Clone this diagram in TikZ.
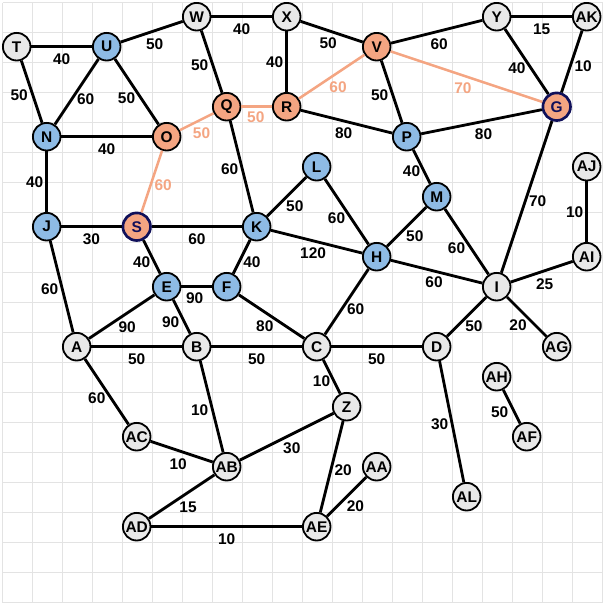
\documentclass[tikz,border=0pt]{standalone}
\usepackage{fontspec}
\setmainfont{Liberation Sans}
\definecolor{vgray}{HTML}{E8E8E8}
\definecolor{vblue}{HTML}{8EBBE5}
\definecolor{vorange}{HTML}{F4A582}
\definecolor{vnavy}{HTML}{10105A}
\definecolor{gridgray}{HTML}{E3E3E3}

\begin{document}
\begin{tikzpicture}[x=0.75cm,y=-0.75cm,
  v/.style={circle,draw=black,line width=1.3pt,minimum size=0.69cm,inner sep=0pt,
    font=\bfseries\fontsize{11}{12}\selectfont},
  gv/.style={v,fill=vgray},
  bv/.style={v,fill=vblue},
  ov/.style={v,fill=vorange},
  sv/.style={ov,draw=vnavy,line width=1.9pt,text=vnavy},
  e/.style={black,line width=2pt},
  oe/.style={vorange,line width=1.8pt},
  wt/.style={inner sep=0pt,text=black,font=\bfseries\fontsize{11}{12}\selectfont},
  owt/.style={wt,text=vorange},
  gridline/.style={gridgray,line width=1pt}]

\useasboundingbox (-0.557,-0.557) rectangle (19.543,19.61);

\foreach \k in {0,...,20} {
  \draw[gridline] (\k-0.473,-0.473) -- (\k-0.473,19.527);
  \draw[gridline] (-0.473,\k-0.473) -- (19.527,\k-0.473);
}

% vertices
\node[gv] (T) at (0,1) {T};
\node[bv] (U) at (3,1) {U};
\node[gv] (W) at (6,0) {W};
\node[gv] (X) at (9,0) {X};
\node[ov] (V) at (12,1) {V};
\node[gv] (Y) at (16,0) {Y};
\node[gv] (AK) at (19,0) {AK};
\node[bv] (N) at (1,4) {N};
\node[ov] (O) at (5,4) {O};
\node[ov] (Q) at (7,3) {Q};
\node[ov] (R) at (9,3) {R};
\node[bv] (P) at (13,4) {P};
\node[sv] (G) at (18,3) {G};
\node[bv] (L) at (10,5) {L};
\node[gv] (AJ) at (19,5) {AJ};
\node[bv] (M) at (14,6) {M};
\node[bv] (J) at (1,7) {J};
\node[sv] (S) at (4,7) {S};
\node[bv] (K) at (8,7) {K};
\node[bv] (H) at (12,8) {H};
\node[gv] (AI) at (19,8) {AI};
\node[bv] (E) at (5,9) {E};
\node[bv] (F) at (7,9) {F};
\node[gv] (I) at (16,9) {I};
\node[gv] (A) at (2,11) {A};
\node[gv] (B) at (6,11) {B};
\node[gv] (C) at (10,11) {C};
\node[gv] (D) at (14,11) {D};
\node[gv] (AG) at (18,11) {AG};
\node[gv] (AH) at (16,12) {AH};
\node[gv] (Z) at (11,13) {Z};
\node[gv] (AC) at (4,14) {AC};
\node[gv] (AF) at (17,14) {AF};
\node[gv] (AB) at (7,15) {AB};
\node[gv] (AA) at (12,15) {AA};
\node[gv] (AL) at (15,16) {AL};
\node[gv] (AD) at (4,17) {AD};
\node[gv] (AE) at (10,17) {AE};

%-------------------------------------
\draw[e] (T) -- node[wt,shift={(0,.4)}] {40} (U);
\draw[e] (T) -- node[wt,shift={(-.42,.12)}] {50} (N);
\draw[e] (U) -- node[wt,shift={(.1,.41)}] {50} (W);
\draw[e] (W) -- node[wt,shift={(0,.43)}] {40} (X);
\draw[e] (U) -- node[wt,shift={(.3,.24)}] {60} (N);
\draw[e] (U) -- node[wt,shift={(-.34,.21)}] {50} (O);
\draw[e] (W) -- node[wt,shift={(-.4,.1)}] {50} (Q);
\draw[e] (X) -- node[wt,shift={(-.4,0)}] {40} (R);
\draw[e] (N) -- node[wt,shift={(0,.4)}] {40} (O);
\draw[e] (N) -- node[wt,shift={(-.4,0)}] {40} (J);
\draw[e] (Q) -- node[wt,shift={(-.4,.08)}] {60} (K);
\draw[e] (X) -- node[wt,shift={(-.12,.38)}] {50} (V);
\draw[e] (V) -- node[wt,shift={(.08,.4)}] {60} (Y);
\draw[e] (Y) -- node[wt,shift={(0,.43)}] {15} (AK);
\draw[e] (Y) -- node[wt,shift={(-.32,.21)}] {40} (G);
\draw[e] (AK) -- node[wt,shift={(.38,.16)}] {10} (G);
\draw[e] (V) -- node[wt,shift={(-.4,.1)}] {50} (P);
\draw[e] (R) -- node[wt,shift={(-.1,.38)}] {80} (P);
\draw[e] (P) -- node[wt,shift={(.07,.4)}] {80} (G);
\draw[e] (P) -- node[wt,shift={(-.34,.16)}] {40} (M);
\draw[e] (G) -- node[wt,shift={(.37,.13)}] {70} (I);
\draw[e] (AJ) -- node[wt,shift={(-.4,0)}] {10} (AI);

%-------------------------------------
\draw[e] (J) -- node[wt,shift={(0,.4)}] {30} (S);
\draw[e] (S) -- node[wt,shift={(0,.4)}] {60} (K);
\draw[e] (S) -- node[wt,shift={(-.34,.18)}] {40} (E);
\draw[e] (K) -- node[wt,shift={(.34,.19)}] {40} (F);
\draw[e] (E) -- node[wt,shift={(-.07,.38)}] {90} (F);
\draw[e] (J) -- node[wt,shift={(-.4,.08)}] {60} (A);
\draw[e] (A) -- node[wt,shift={(.18,.34)}] {90} (E);
\draw[e] (E) -- node[wt,shift={(-.37,.19)}] {90} (B);
\draw[e] (F) -- node[wt,shift={(-.23,.3)}] {80} (C);
\draw[e] (A) -- node[wt,shift={(0,.4)}] {50} (B);
\draw[e] (B) -- node[wt,shift={(0,.4)}] {50} (C);
\draw[e] (A) -- node[wt,shift={(-.33,.2)}] {60} (AC);
\draw[e] (L) -- node[wt,shift={(-.34,.21)}] {60} (H);
\draw[e] (L) -- node[wt,shift={(.27,.3)}] {50} (K);
\draw[e] (M) -- node[wt,shift={(.27,.3)}] {50} (H);
\draw[e] (M) -- node[wt,shift={(-.34,.21)}] {60} (I);
\draw[e] (K) -- node[wt,shift={(-.12,.38)}] {120} (H);
\draw[e] (H) -- node[wt,shift={(-.09,.36)}] {60} (I);
\draw[e] (I) -- node[wt,shift={(.1,.43)}] {25} (AI);
\draw[e] (H) -- node[wt,shift={(.3,.24)}] {60} (C);
\draw[e] (I) -- node[wt,shift={(.24,.3)}] {50} (D);
\draw[e] (I) -- node[wt,shift={(-.29,.27)}] {20} (AG);
\draw[e] (C) -- node[wt,shift={(0,.4)}] {50} (D);

%-------------------------------------
\draw[e] (C) -- node[wt,shift={(-.34,.16)}] {10} (Z);
\draw[e] (AH) -- node[wt,shift={(-.4,.19)}] {50} (AF);
\draw[e] (B) -- node[wt,shift={(-.4,.12)}] {10} (AB);
\draw[e] (AC) -- node[wt,shift={(-.12,.4)}] {10} (AB);
\draw[e] (AB) -- node[wt,shift={(.21,.34)}] {15} (AD);
\draw[e] (AD) -- node[wt,shift={(0,.4)}] {10} (AE);
\draw[e] (AB) -- node[wt,shift={(.17,.37)}] {30} (Z);
\draw[e] (Z) -- node[wt,shift={(.38,.1)}] {20} (AE);
\draw[e] (AE) -- node[wt,shift={(.29,.3)}] {20} (AA);
\draw[e] (D) -- node[wt,shift={(-.4,.07)}] {30} (AL);

% path in orange
\draw[oe] (O) -- node[owt,shift={(.16,.38)}] {50} (Q);
\draw[oe] (Q) -- node[owt,shift={(-.03,.34)}] {50} (R);
\draw[oe] (O) -- node[owt,shift={(.38,.12)}] {60} (S);
\draw[oe] (R) -- node[owt,shift={(.21,.34)}] {60} (V);
\draw[oe] (V) -- node[owt,shift={(-.12,.38)}] {70} (G);

\end{tikzpicture}
\end{document}
